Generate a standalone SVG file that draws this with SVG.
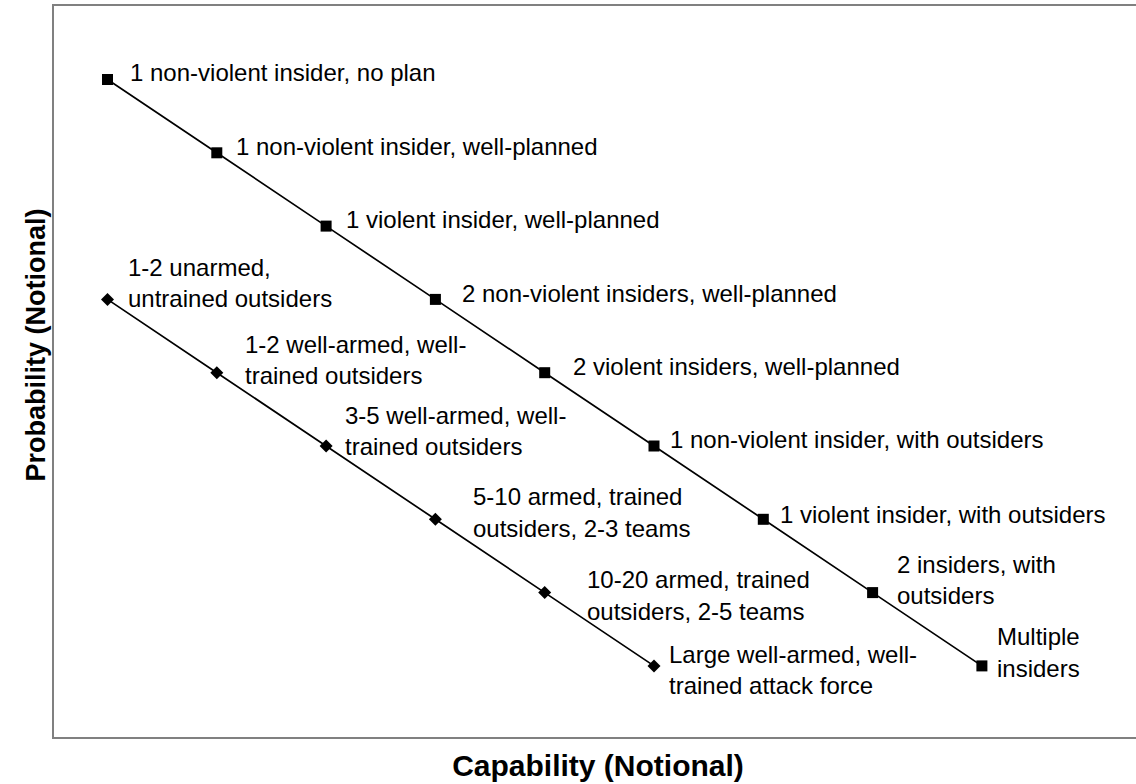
<svg xmlns="http://www.w3.org/2000/svg" width="1136" height="784" viewBox="0 0 1136 784">
<style>
.lbl{font-family:"Liberation Sans",Arial,sans-serif;font-size:24px;fill:#000}
.ttl{font-family:"Liberation Sans",Arial,sans-serif;font-weight:bold;fill:#000}
.ln{fill:none;stroke:#000;stroke-width:1.7}
.sq{fill:#000}
.frame{fill:#fff;stroke:#808080;stroke-width:2}
</style>
<defs>
<rect id="sqm" x="-5.5" y="-5.5" width="11" height="11" class="sq"/>
<polygon id="dm" points="0,-6.5 6.5,0 0,6.5 -6.5,0" class="sq"/>
</defs>
<rect width="1136" height="784" fill="#fff"/>
<rect class="frame" x="53" y="5" width="1095" height="733"/>
<g id="connectors">
<polyline class="ln" points="107.5,79.5 216.8,152.8 326.1,226.1 435.4,299.4 544.7,372.7 654,446 763.3,519.3 872.6,592.6 981.9,665.9"/>
<polyline class="ln" points="107.5,299.4 216.8,372.7 326.1,446 435.4,519.3 544.7,592.6 654,665.9"/>
</g>
<g id="s0"><use href="#sqm" x="107.5" y="79.5"/><text class="lbl" x="130" y="81">1 non-violent insider, no plan</text></g>
<g id="s1"><use href="#sqm" x="216.8" y="152.8"/><text class="lbl" x="236" y="155">1 non-violent insider, well-planned</text></g>
<g id="s2"><use href="#sqm" x="326.1" y="226.1"/><text class="lbl" x="346" y="228">1 violent insider, well-planned</text></g>
<g id="s3"><use href="#sqm" x="435.4" y="299.4"/><text class="lbl" x="462" y="302">2 non-violent insiders, well-planned</text></g>
<g id="s4"><use href="#sqm" x="544.7" y="372.7"/><text class="lbl" x="573" y="375">2 violent insiders, well-planned</text></g>
<g id="s5"><use href="#sqm" x="654" y="446"/><text class="lbl" x="670" y="448">1 non-violent insider, with outsiders</text></g>
<g id="s6"><use href="#sqm" x="763.3" y="519.3"/><text class="lbl" x="780" y="523">1 violent insider, with outsiders</text></g>
<g id="s7"><use href="#sqm" x="872.6" y="592.6"/><text class="lbl" x="897" y="573">2 insiders, with</text><text class="lbl" x="897" y="604">outsiders</text></g>
<g id="s8"><use href="#sqm" x="981.9" y="665.9"/><text class="lbl" x="997" y="645">Multiple</text><text class="lbl" x="997" y="677">insiders</text></g>
<g id="d0"><use href="#dm" x="107.5" y="299.4"/><text class="lbl" x="128" y="276">1-2 unarmed,</text><text class="lbl" x="128" y="307">untrained outsiders</text></g>
<g id="d1"><use href="#dm" x="216.8" y="372.7"/><text class="lbl" x="245" y="353">1-2 well-armed, well-</text><text class="lbl" x="245" y="384">trained outsiders</text></g>
<g id="d2"><use href="#dm" x="326.1" y="446"/><text class="lbl" x="345" y="424">3-5 well-armed, well-</text><text class="lbl" x="345" y="455">trained outsiders</text></g>
<g id="d3"><use href="#dm" x="435.4" y="519.3"/><text class="lbl" x="473" y="505">5-10 armed, trained</text><text class="lbl" x="473" y="537">outsiders, 2-3 teams</text></g>
<g id="d4"><use href="#dm" x="544.7" y="592.6"/><text class="lbl" x="587" y="588">10-20 armed, trained</text><text class="lbl" x="587" y="620">outsiders, 2-5 teams</text></g>
<g id="d5"><use href="#dm" x="654" y="665.9"/><text class="lbl" x="669" y="663">Large well-armed, well-</text><text class="lbl" x="669" y="694">trained attack force</text></g>
<g id="axis-x"><text class="ttl" x="598" y="776" font-size="30" text-anchor="middle">Capability (Notional)</text></g>
<g id="axis-y"><text class="ttl" font-size="27" text-anchor="middle" transform="translate(45,345) rotate(-90)">Probability (Notional)</text></g>
</svg>
